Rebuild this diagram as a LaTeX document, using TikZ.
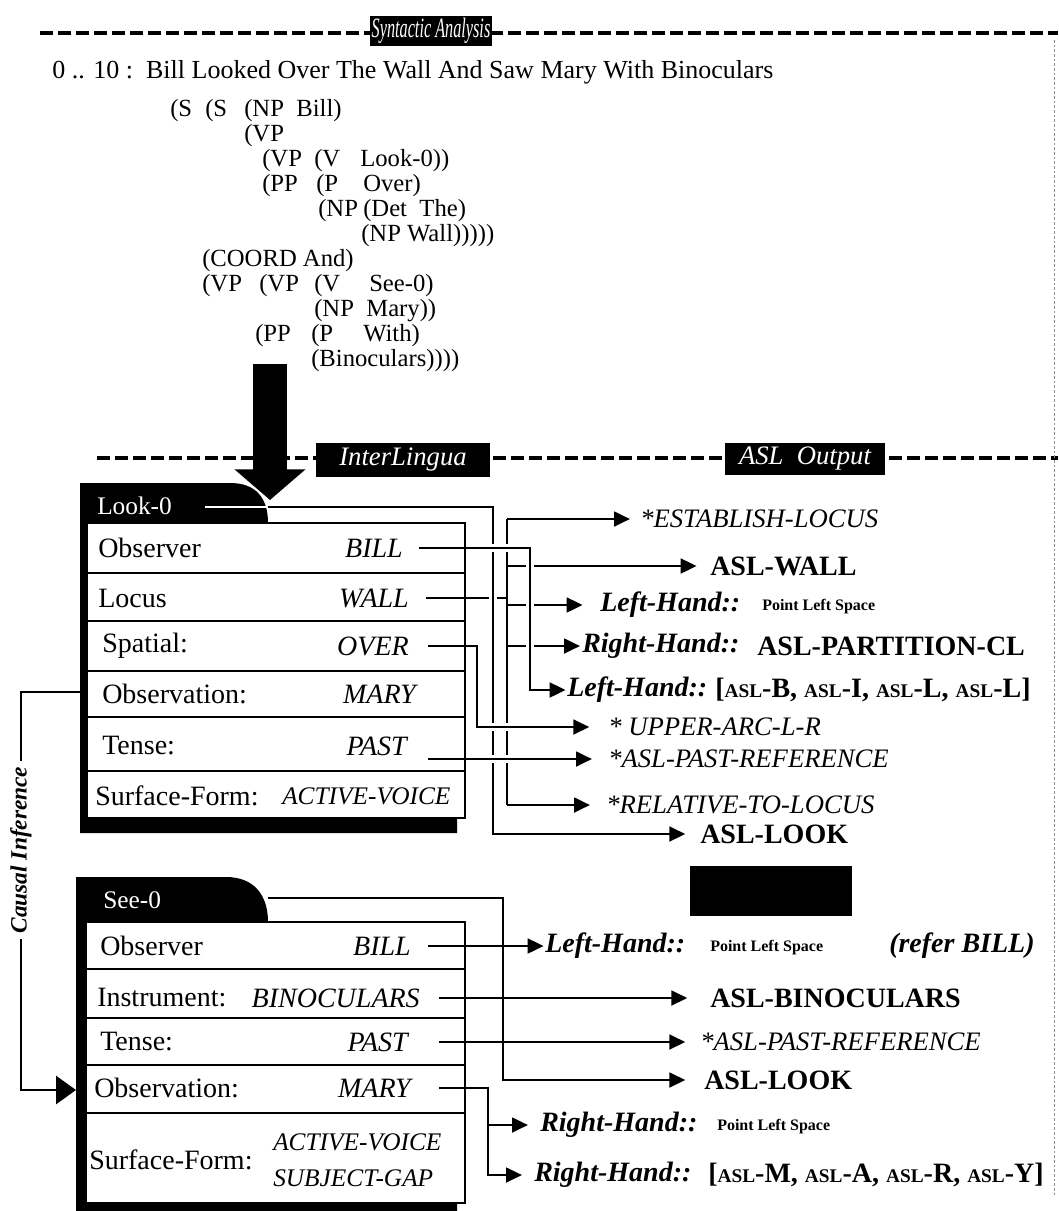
\documentclass[tikz,border=0pt]{standalone}
\usepackage{graphicx}
\usepackage{fontspec}
\setmainfont{Liberation Serif}
\usetikzlibrary{arrows.meta,positioning}

\newcommand{\bodysize}{\fontsize{21pt}{22pt}\selectfont}
\newcommand{\treesize}{\fontsize{18.5pt}{19pt}\selectfont}
\newcommand{\glosssize}{\fontsize{20pt}{21pt}\selectfont}
\newcommand{\tinysize}{\fontsize{12pt}{13pt}\selectfont}
\newcommand{\aslsc}[1]{{\fontsize{14.5pt}{15pt}\selectfont ASL}-#1}

\begin{document}
\begin{tikzpicture}[
  x=0.75pt, y=-0.75pt,
  >={Triangle[length=12pt,width=11pt]},
  dashrule/.style={line width=2.6pt, dash pattern=on 10pt off 3.5pt},
  tag/.style={fill=black, text=white, font=\glosssize\itshape, inner sep=0pt},
  word/.style={anchor=west, inner sep=0pt, font=\treesize},
  slot/.style={anchor=west, inner sep=0pt, font=\bodysize},
  filler/.style={anchor=east, inner sep=0pt, font=\bodysize\itshape},
  voice/.style={anchor=west, inner sep=0pt, font=\fontsize{19pt}{20pt}\selectfont\itshape},
  tabname/.style={anchor=west, inner sep=0pt, text=white, font=\fontsize{19pt}{20pt}\selectfont},
  wire/.style={line width=2.1pt},
  bridge/.style={wire, preaction={draw=white, line width=6.5pt}},
  sign/.style={anchor=west, inner sep=0pt, font=\bodysize\bfseries},
  gloss/.style={anchor=west, inner sep=0pt, font=\glosssize\itshape},
  hand/.style={anchor=west, inner sep=0pt, font=\bodysize\bfseries\itshape},
  spot/.style={anchor=west, inner sep=0pt, font=\tinysize\bfseries},
  cause/.style={rotate=90, fill=white, inner xsep=4pt, inner ysep=1pt,
                font=\fontsize{17.5pt}{18pt}\selectfont\bfseries\itshape},
  rowline/.style={line width=2pt}
]
\useasboundingbox (0,0) rectangle (1058,1211);

% syntactic analysis
\draw[dashrule] (40,33) -- (1058,33);
\node[tag, minimum width=92pt, minimum height=23pt] (syn) at (431,31)
  {\scalebox{0.58}[1]{\fontsize{21pt}{21pt}\selectfont Syntactic Analysis}};
\node[word, font=\fontsize{19.5pt}{20pt}\selectfont] (sent) at (52,72)
  {0 .. 10 :\ \ Bill Looked Over The Wall And Saw Mary With Binoculars};

% parse tree
\node[word] (t1a) at (170,111) {(S};
\node[word] (t1b) at (205,111) {(S};
\node[word] (t1c) at (244,111) {(NP~~Bill)};
\node[word] (t2a) at (244,136) {(VP};
\node[word] (t3a) at (262,161) {(VP};
\node[word] (t3b) at (314,161) {(V};
\node[word] (t3c) at (360,161) {Look-0))};
\node[word] (t4a) at (262,186) {(PP};
\node[word] (t4b) at (316,186) {(P};
\node[word] (t4c) at (363,186) {Over)};
\node[word] (t5a) at (318,211) {(NP};
\node[word] (t5b) at (363,211) {(Det~~The)};
\node[word] (t6a) at (361,236) {(NP Wall)))))};
\node[word] (t7a) at (202,261) {(COORD And)};
\node[word] (t8a) at (202,286) {(VP};
\node[word] (t8b) at (259,286) {(VP};
\node[word] (t8c) at (314,286) {(V};
\node[word] (t8d) at (369,286) {See-0)};
\node[word] (t9a) at (314,311) {(NP~~Mary))};
\node[word] (t10a) at (255,336) {(PP};
\node[word] (t10b) at (311,336) {(P};
\node[word] (t10c) at (363,336) {With)};
\node[word] (t11a) at (311,361) {(Binoculars))))};

% interlingua / asl output
\draw[dashrule] (97,458) -- (1058,458);
\node[tag, minimum width=131pt, minimum height=25pt] (inter) at (403,460) {InterLingua};
\node[tag, minimum width=120pt, minimum height=24pt] (aslout) at (805,459) {ASL\ \ Output};

% Look-0 frame
\fill (80,833) -- (80,483) -- (230,483) .. controls (256,483) and (268,498) .. (268,523)
  -- (457,523) -- (457,833) -- cycle;
\filldraw[fill=white, rowline] (87,523) rectangle (465,818);
\foreach \y in {573,621,671,717,771} \draw[rowline] (87,\y) -- (465,\y);
\node[tabname] (look) at (97,506) {Look-0};

\node[slot] (kObs) at (98,548) {Observer};
\node[filler] (kBill) at (403,548) {BILL};
\node[slot] (kLoc) at (98,598) {Locus};
\node[filler] (kWall) at (409,598) {WALL};
\node[slot] (kSpa) at (102,646) {Spatial:};
\node[filler] (kOver) at (409,646) {OVER};
\node[slot] (kObn) at (102,694) {Observation:};
\node[filler] (kMary) at (416,694) {MARY};
\node[slot] (kTen) at (102,746) {Tense:};
\node[filler] (kPast) at (407,746) {PAST};
\node[slot] (kSur) at (95,796) {Surface-Form:};
\node[voice] (kVoice) at (282,796) {ACTIVE-VOICE};

% Look-0 outputs
\node[gloss] (oEst) at (640,519) {*ESTABLISH-LOCUS};
\node[sign] (oWall) at (710,566) {ASL-WALL};
\node[hand] (oLH1) at (600,605) {Left-Hand::};
\node[spot] (oPt1) at (762,607) {Point Left Space};
\node[hand] (oRH1) at (582,646) {Right-Hand::};
\node[sign] (oPart) at (757,646) {ASL-PARTITION-CL};
\node[hand] (oLH2) at (567,690) {Left-Hand::};
\node[sign] (oSpell) at (715,690) {[\aslsc{B}, \aslsc{I}, \aslsc{L}, \aslsc{L}]};
\node[gloss] (oArc) at (608,727) {* UPPER-ARC-L-R};
\node[gloss] (oPast) at (608,759) {*ASL-PAST-REFERENCE};
\node[gloss] (oRel) at (606,805) {*RELATIVE-TO-LOCUS};
\node[sign] (oLook) at (700,834) {ASL-LOOK};

% Look-0 connectors
\coordinate (lookLine) at (205,507);
\coordinate (lookEnd) at (268,507);
\coordinate (busA) at (493,507);
\coordinate (busB) at (507,519);
\coordinate (busE) at (530,548);
\coordinate (busF) at (477,646);
\coordinate (pastStub) at (428,759);
\draw[wire] (busB |- oEst) -- (busB |- oRel);
\foreach \o/\s in {oEst/7.5pt, oWall/10pt, oLH1/13pt, oRH1/1.5pt, oRel/12pt}
  \draw[wire, ->, shorten >=\s] (busB |- \o) -- (\o);
\draw[wire] ([xshift=13pt]kWall.east) -- (busB |- kWall);
\draw[wire, white] (lookLine) -- (lookEnd);
\draw[bridge, ->, shorten >=11pt] (lookEnd) -| (busA |- oLook) -- (oLook);
\draw[bridge, ->, shorten >=1pt] ([xshift=12pt]kBill.east) -| (busE |- oLH2) -- (oLH2);
\draw[bridge, ->, shorten >=14pt] ([xshift=14pt]kOver.east) -| (busF |- oArc) -- (oArc);
\draw[bridge, ->, shorten >=12pt] (pastStub) -- (oPast);
\draw[rowline] (465,523) -- (465,818);

% causal inference
\coordinate (ciTop) at (80,692);
\coordinate (ciMid) at (21,850);
\coordinate (ciBot) at (76,1090);
\draw[wire, -{Triangle[length=15pt,width=21pt]}] (ciTop) -| (ciMid) |- (ciBot);
\node[cause] (ci) at (ciMid) {Causal Inference};

% See-0 frame
\fill (76,1211) -- (76,877) -- (226,877) .. controls (254,877) and (268,895) .. (268,922)
  -- (457,922) -- (457,1211) -- cycle;
\filldraw[fill=white, rowline] (86,922) rectangle (465,1203);
\foreach \y in {969,1018,1065,1113} \draw[rowline] (86,\y) -- (465,\y);
\node[tabname] (see) at (103,900) {See-0};

\node[slot] (eObs) at (100,946) {Observer};
\node[filler] (eBill) at (411,946) {BILL};
\node[slot] (eIns) at (97,998) {Instrument:};
\node[filler] (eBino) at (420,998) {BINOCULARS};
\node[slot] (eTen) at (100,1042) {Tense:};
\node[filler] (ePast) at (408,1042) {PAST};
\node[slot] (eObn) at (94,1088) {Observation:};
\node[filler] (eMary) at (411,1088) {MARY};
\node[slot] (eSur) at (89,1160) {Surface-Form:};
\node[voice] (eVoice) at (273,1142) {ACTIVE-VOICE};
\node[voice] (eGap) at (273,1178) {SUBJECT-GAP};

% See-0 outputs
\node[fill=black, minimum width=122pt, minimum height=37pt, inner sep=0pt] (blank) at (771,891) {};
\node[hand] (sLH) at (545,946) {Left-Hand::};
\node[spot] (sPt1) at (710,948) {Point Left Space};
\node[hand] (sRefer) at (889,946) {(refer BILL)};
\node[sign] (sBino) at (710,998) {ASL-BINOCULARS};
\node[gloss] (sPast) at (700,1042) {*ASL-PAST-REFERENCE};
\node[sign] (sLook) at (704,1080) {ASL-LOOK};
\node[hand] (sRH1) at (540,1125) {Right-Hand::};
\node[spot] (sPt2) at (717,1127) {Point Left Space};
\node[hand] (sRH2) at (534,1175) {Right-Hand::};
\node[sign] (sSpell) at (708,1175) {[\aslsc{M}, \aslsc{A}, \aslsc{R}, \aslsc{Y}]};

% See-0 connectors
\coordinate (seeEnd) at (268,898);
\coordinate (busC) at (503,898);
\coordinate (busD) at (488,1088);
\draw[wire, ->, shorten >=14pt] (seeEnd) -| (busC |- sLook) -- (sLook);
\draw[wire, ->, shorten >=1pt] ([xshift=13pt]eBill.east) -- (sLH);
\draw[wire, ->, shorten >=17pt] ([xshift=14pt]eBino.east) -- (sBino);
\draw[wire, ->, shorten >=11pt] ([xshift=23pt]ePast.east) -- (sPast);
\draw[wire, ->, shorten >=9pt] ([xshift=21pt]eMary.east) -| (busD |- sRH2) -- (sRH2);
\draw[wire, ->, shorten >=9pt] (busD |- sRH1) -- (sRH1);

% tree to interlingua
\coordinate (treeFoot) at (270,364);
\coordinate (frameTop) at (270,500);
\draw[line width=25.5pt, -{Triangle[length=23pt,width=52pt]}] (treeFoot) -- (frameTop);

% page edge
\draw[black!45, line width=0.5pt, dash pattern=on 2pt off 1.5pt] (1054,40) -- (1054,1195);
\end{tikzpicture}
\end{document}
